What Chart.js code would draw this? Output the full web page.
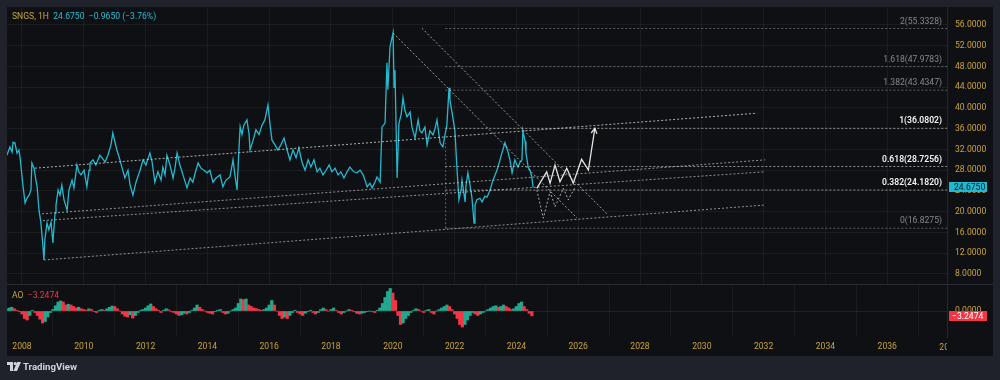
<!DOCTYPE html>
<html><head><meta charset="utf-8">
<script src="https://cdn.jsdelivr.net/npm/chart.js@4.4.1/dist/chart.umd.min.js"></script>
<style>
html,body{margin:0;padding:0;background:#1f222a;width:1000px;height:380px;overflow:hidden;font-family:Roboto,"Liberation Sans",Arial,sans-serif;}
#frame{position:absolute;left:7px;top:7px;width:986px;height:349px;background:#0f1013;}
#main{position:absolute;left:7px;top:7px;}
#ao{position:absolute;left:7px;top:285px;}
#sep{position:absolute;left:7px;top:284px;width:986px;height:1px;background:#2a2d35;}
.t{position:absolute;font-size:8.6px;white-space:pre;line-height:10px;}
#logo{position:absolute;left:7px;top:361px;height:11px;display:flex;align-items:center;color:#d1d4dc;font-size:9.6px;font-weight:bold;}
</style></head>
<body>
<div id="frame"></div>
<canvas id="main" width="986" height="277"></canvas>
<div id="sep"></div>
<canvas id="ao" width="986" height="71"></canvas>
<div class="t" style="left:12px;top:11px;"><span style="color:#c9a43c">SNGS, 1H</span>  <span style="color:#2bbcd4">24.6750</span>  <span style="color:#2bbcd4">−0.9650 (−3.76%)</span></div>
<div class="t" style="left:12px;top:290px;"><span style="color:#c9a43c">AO</span>  <span style="color:#f23645">−3.2474</span></div>
<div id="logo"><svg width="14" height="10" viewBox="0 0 14 10" style="margin-right:2px"><path d="M0 0h6v9H3V3H0z" fill="#d1d4dc"/><circle cx="8.2" cy="1.6" r="1.6" fill="#d1d4dc"/><path d="M10.2 0h3.8l-4 9H6.3z" fill="#d1d4dc"/></svg>TradingView</div>
<script>
// ---- price series (year, price) ----
const priceDates = [
2007.51,2007.61,2007.68,2007.71,2007.77,2007.84,2007.90,2007.94,2007.97,2008.03,
2008.10,2008.16,2008.23,2008.29,2008.32,2008.39,2008.45,2008.49,2008.55,2008.61,
2008.68,2008.71,2008.74,2008.81,2008.87,2008.94,2009.00,2009.07,2009.10,2009.17,
2009.23,2009.29,2009.36,2009.46,2009.52,2009.62,2009.68,2009.78,2009.84,2009.91,
2010.01,2010.10,2010.17,2010.20,2010.30,2010.39,2010.46,2010.52,2010.59,2010.69,
2010.78,2010.88,2010.94,2011.01,2011.07,2011.17,2011.24,2011.33,2011.43,2011.50,
2011.59,2011.69,2011.82,2011.92,2012.01,2012.14,2012.21,2012.30,2012.40,2012.50,
2012.56,2012.63,2012.69,2012.79,2012.89,2012.95,2013.02,2013.11,2013.21,2013.34,
2013.44,2013.53,2013.63,2013.70,2013.79,2013.89,2013.99,2014.08,2014.18,2014.28,
2014.41,2014.50,2014.60,2014.73,2014.83,2014.89,2014.96,2015.02,2015.06,2015.12,
2015.18,2015.28,2015.35,2015.38,2015.48,2015.57,2015.67,2015.77,2015.86,2015.96,
2016.03,2016.09,2016.19,2016.28,2016.38,2016.48,2016.58,2016.67,2016.77,2016.87,
2016.96,2017.06,2017.16,2017.26,2017.35,2017.45,2017.55,2017.64,2017.74,2017.84,
2017.94,2018.03,2018.13,2018.23,2018.32,2018.42,2018.52,2018.61,2018.74,2018.84,
2018.94,2019.04,2019.10,2019.17,2019.26,2019.33,2019.42,2019.49,2019.59,2019.65,
2019.75,2019.81,2019.84,2019.91,2020.01,2020.04,2020.07,2020.14,2020.20,2020.27,
2020.33,2020.39,2020.46,2020.56,2020.62,2020.72,2020.82,2020.88,2020.94,2021.04,
2021.11,2021.20,2021.30,2021.37,2021.43,2021.53,2021.62,2021.69,2021.75,2021.82,
2021.85,2021.92,2022.01,2022.08,2022.14,2022.21,2022.24,2022.34,2022.37,2022.43,
2022.50,2022.56,2022.63,2022.66,2022.72,2022.82,2022.89,2022.98,2023.05,2023.15,
2023.24,2023.31,2023.37,2023.47,2023.53,2023.63,2023.73,2023.79,2023.86,2023.95,
2024.05,2024.12,2024.18,2024.21,2024.28,2024.31,2024.38,2024.44,2024.50,2024.54];
const priceValues = [
30.9,32.5,31.5,33.4,33.3,31.3,31.9,30.4,28.6,25.1,
21.7,22.6,23.2,24.2,29.4,28.4,26.1,24.8,20.3,18.0,
13.2,10.7,14.6,17.8,16.5,18.0,14.0,19.8,21.3,24.2,
23.2,25.1,22.3,20.3,24.2,26.1,24.6,29.0,27.7,27.1,
28.0,24.8,28.0,29.4,30.0,29.0,30.0,30.9,30.4,29.6,
30.9,32.9,35.2,33.4,31.9,30.0,28.4,26.5,28.0,25.1,
23.2,25.7,28.0,30.0,29.0,31.3,29.6,25.7,27.7,26.1,
28.6,27.1,30.9,29.0,26.5,28.4,31.3,29.0,27.1,24.6,
26.5,25.7,28.0,29.4,28.4,28.0,27.5,28.0,25.7,26.5,
27.1,24.8,26.1,26.7,30.0,27.1,24.2,31.9,36.4,34.9,
36.7,37.7,34.9,31.9,33.8,35.8,34.9,36.7,37.7,40.6,
36.7,33.8,32.9,31.9,32.9,34.2,31.9,30.0,31.9,30.4,
32.3,29.6,28.0,30.0,28.6,30.0,27.7,28.4,27.1,28.0,
29.0,27.7,28.4,27.1,27.7,26.5,27.7,28.6,27.7,27.5,
28.0,27.1,26.1,24.8,25.5,24.6,25.7,26.7,25.7,36.3,
37.1,48.7,43.5,51.8,54.5,44.0,47.3,26.5,37.1,38.7,
42.0,39.6,38.3,39.2,36.3,34.2,37.7,35.6,35.2,36.3,
32.9,35.6,34.8,36.1,37.7,33.3,32.5,34.8,36.7,43.9,
41.5,39.0,35.6,28.0,22.3,24.2,26.1,21.9,25.1,27.5,
25.1,22.8,17.8,21.3,22.3,22.6,21.9,23.0,22.8,24.2,
26.1,27.1,28.0,30.0,31.3,33.3,31.5,30.0,27.5,30.0,
28.6,29.6,30.0,35.6,33.6,31.3,28.6,28.0,26.7,24.675];
const lastPrice = 24.675;

// ---- axis ticks ----
const priceTicks = [8,12,16,20,24,28,32,36,40,44,48,52,56];
const yearTicks = [2008,2010,2012,2014,2016,2018,2020,2022,2024,2026,2028,2030,2032,2034,2036];
const clippedYearTick = 2038;

// ---- Fibonacci extension ----
const fibRatios = ['2','1.618','1.382','1','0.618','0.382','0'];
const fibLevels = [55.3328,47.9783,43.4347,36.0802,28.7256,24.1820,16.8275];
const fibStrong = [false,false,false,true,true,true,false];
const fibStartYear = 2021.70;
const fibVertical = [[2021.71,16.8275],[2021.71,33.3]];

// ---- trend lines (year, price) ----
const channelTop = [[2008.42,28.4],[2031.79,39.0]];
const channelMid1 = [[2008.65,19.6],[2032.05,30.0]];
const channelMid2 = [[2008.68,18.3],[2032.05,27.7]];
const channelBottom = [[2008.71,10.7],[2032.05,21.3]];
const diagonalA = [[2020.01,54.46],[2025.96,18.8]];
const diagonalB = [[2020.94,55.4],[2026.93,19.6]];

// ---- projected paths ----
const zigUpDates = [2024.66,2024.98,2025.09,2025.25,2025.41,2025.63,2025.84,2026.11,2026.33,2026.54];
const zigUpPrices = [24.5,27.7,25.5,29.0,25.8,28.4,25.5,30.1,28.05,36.1];
const zigDownDates = [2024.66,2024.87,2025.09,2025.25,2025.52,2025.68,2025.90];
const zigDownPrices = [24.2,18.75,23.87,20.98,24.52,22.3,24.75];

// ---- Awesome Oscillator, monthly from Jul 2007 ----
const aoStartYear = 2007.5;
const aoValues = [
1.0,2.0,2.5,1.5,0.5,-0.5,
-2,-5,-6,-3,0.5,-1,-3,-5.5,-8,-7,-4,-1,
1,3.5,6,6.7,6,4,4.5,4,3,2,2.5,1.5,
1,0.5,1.5,1,-0.5,-1,0.5,1,0.5,1.5,2.5,3.3,
3,1.5,0,-2,-3.5,-4,-2.5,-4.7,-3,-1,0.5,1,
2,3.5,4.7,3,1.5,0.5,-1,0.5,1.5,0.8,-0.5,-1,
-2,-3,-2.5,-1.5,-2,-1,0.5,2,4,2.5,1,0,
-1,-1.5,-2,-0.5,0.5,1,-1,-2,-1.5,0,1,2,
5,8,7.5,8,4,3,2,1.5,1,0.5,1,2,
4,7,4,0,-3,-5,-4,-5,-3,-1,0.5,-1,
-2,-3,-1.5,-0.5,0.5,-1,-2,-1,1,2,1,0,
1,2,0.5,-1,-2,-1,0,1,0.5,-0.5,-1.5,-2,
-1.5,-1,-0.5,0,-0.5,-1,0.5,2,5,9,13,15,
12,7,-3,-9,-8,-5,-3,-1,0.5,1.5,1,0,
-1,0.5,1,-1,-2,0,1,2,3,4,3,1,
-2,-5,-9,-10.7,-9,-6,-3,-1,-2,-3,-2,-1,
0,1,2,3,3.5,2.5,3,4,3,2,1,1.5,
3,5,6,3,1,-1.5,-3.2474];
const aoLast = -3.2474;

// ---- styling ----
const GOLD = '#c9a43c', CYAN = '#25b9cf', GRID = 'rgba(255,255,255,0.05)';
const FONT = {family:'Roboto, "Liberation Sans", Arial', size: 8.6};
Chart.defaults.font.family = FONT.family;
const X_MIN = 2007.515, X_MAX = 2037.935;

const pts = a => a.map(p => ({x:p[0], y:p[1]}));
const zip = (xs, ys) => xs.map((x,i) => ({x, y: ys[i]}));
const noPad = s => { s.paddingLeft = 0; s.paddingRight = 0; s.paddingTop = 0; s.paddingBottom = 0; };

function lineDs(data, color, dash, width, order) {
  return {type:'line', data, borderColor: color, borderWidth: width || 1, borderDash: dash || [],
          pointRadius: 0, tension: 0, fill: false, order: order === undefined ? 0 : order};
}

const datasets = [];
datasets.push(lineDs(zip(priceDates, priceValues), CYAN, [], 1.3, 2));
datasets.push(lineDs(pts(channelTop), 'rgba(215,215,215,0.8)', [2,2], 1));
datasets.push(lineDs(pts(channelMid1), 'rgba(200,200,200,0.7)', [2,2], 1));
datasets.push(lineDs(pts(channelMid2), 'rgba(200,200,200,0.7)', [2,2], 1));
datasets.push(lineDs(pts(channelBottom), 'rgba(200,200,200,0.7)', [2,2], 1));
datasets.push(lineDs(pts(diagonalA), 'rgba(205,205,205,0.75)', [2,2], 1));
datasets.push(lineDs(pts(diagonalB), 'rgba(205,205,205,0.75)', [2,2], 1));
fibLevels.forEach((lv, i) => {
  datasets.push(lineDs([{x:fibStartYear,y:lv},{x:X_MAX,y:lv}], fibStrong[i] ? 'rgba(200,200,200,0.7)' : 'rgba(150,152,160,0.6)', [2,2], 1));
});
datasets.push(lineDs(pts(fibVertical), 'rgba(150,152,160,0.6)', [2,2], 1));
datasets.push(lineDs(zip(zigDownDates, zigDownPrices), 'rgba(210,210,210,0.8)', [2,2], 1));
const zigUpIndex = datasets.length;
datasets.push(lineDs(zip(zigUpDates, zigUpPrices), '#e6e6e6', [], 1.3));

const mainPlugin = {
  id: 'mainDeco',
  afterDatasetsDraw(chart) {
    const {ctx, chartArea, scales:{y}} = chart;
    ctx.save();
    ctx.textAlign = 'right'; ctx.textBaseline = 'middle';
    fibLevels.forEach((lv, i) => {
      const py = y.getPixelForValue(lv);
      ctx.fillStyle = fibStrong[i] ? '#f2f2f2' : '#858891';
      ctx.font = (fibStrong[i] ? '600 ' : '') + '8.6px ' + FONT.family;
      ctx.fillText(fibRatios[i] + '(' + lv.toFixed(4) + ')', chartArea.right - 5, py - 7);
    });
    // arrow head on projected path
    const meta = chart.getDatasetMeta(zigUpIndex).data;
    const a = meta[meta.length - 2], b = meta[meta.length - 1];
    const ang = Math.atan2(b.y - a.y, b.x - a.x);
    ctx.strokeStyle = '#e6e6e6'; ctx.lineWidth = 1.3;
    ctx.beginPath();
    ctx.moveTo(b.x - 6*Math.cos(ang - 0.5), b.y - 6*Math.sin(ang - 0.5));
    ctx.lineTo(b.x, b.y);
    ctx.lineTo(b.x - 6*Math.cos(ang + 0.5), b.y - 6*Math.sin(ang + 0.5));
    ctx.stroke();
    ctx.restore();
  },
  afterDraw(chart) {
    const {ctx, chartArea, scales:{y}} = chart;
    const py = y.getPixelForValue(lastPrice);
    ctx.save();
    ctx.fillStyle = '#22b8cf';
    ctx.fillRect(chartArea.right + 2, Math.round(py - 5), 38, 10);
    ctx.fillStyle = '#0c1a22';
    ctx.font = '8.6px ' + FONT.family;
    ctx.textAlign = 'left'; ctx.textBaseline = 'middle';
    ctx.fillText(lastPrice.toFixed(4), chartArea.right + 7, py + 0.5);
    ctx.restore();
  }
};

new Chart(document.getElementById('main'), {
  data: {datasets},
  options: {
    responsive: false, animation: false, devicePixelRatio: 1,
    layout: {padding: 0},
    plugins: {legend: {display: false}, tooltip: {enabled: false}},
    scales: {
      x: {type: 'linear', min: X_MIN, max: X_MAX, position: 'bottom',
          afterBuildTicks: s => { s.ticks = yearTicks.map(v => ({value: v})); },
          ticks: {display: false, autoSkip: false},
          grid: {color: GRID, drawTicks: false}, border: {display: false},
          afterFit: s => { s.height = 0; noPad(s); }},
      y: {type: 'linear', position: 'right', min: 6.07, max: 59.47,
          afterBuildTicks: s => { s.ticks = priceTicks.map(v => ({value: v})); },
          ticks: {color: GOLD, font: FONT, padding: 8, autoSkip: false, callback: v => Number(v).toFixed(4)},
          grid: {color: GRID, drawTicks: false}, border: {display: true, color: '#25282f'},
          afterFit: s => { s.width = 46; noPad(s); }}
    }
  },
  plugins: [mainPlugin]
});

// ---- AO pane ----
const aoData = aoValues.map((v, i) => ({x: aoStartYear + i/12, y: v}));
const aoColors = aoValues.map((v, i) => (i === 0 || v >= aoValues[i-1]) ? '#22a88f' : '#f23645');

const aoPlugin = {
  id: 'aoDeco',
  afterDraw(chart) {
    const {ctx, chartArea, scales:{x, y}} = chart;
    ctx.save();
    ctx.beginPath(); ctx.rect(0, 0, chartArea.right, chart.height); ctx.clip();
    ctx.fillStyle = GOLD; ctx.font = '8.6px ' + FONT.family;
    ctx.textAlign = 'center'; ctx.textBaseline = 'middle';
    ctx.fillText(String(clippedYearTick), x.getPixelForValue(clippedYearTick), chartArea.bottom + 10.5);
    ctx.restore();
    const py = y.getPixelForValue(aoLast);
    ctx.save();
    ctx.fillStyle = '#f23645';
    ctx.fillRect(chartArea.right + 2, Math.round(py - 5), 38, 10);
    ctx.fillStyle = '#ffffff';
    ctx.font = '8.6px ' + FONT.family;
    ctx.textAlign = 'left'; ctx.textBaseline = 'middle';
    ctx.fillText('−' + Math.abs(aoLast).toFixed(4), chartArea.right + 5, py + 0.5);
    ctx.restore();
  }
};

new Chart(document.getElementById('ao'), {
  type: 'bar',
  data: {datasets: [{data: aoData, backgroundColor: aoColors, borderWidth: 0,
                     barPercentage: 1, categoryPercentage: 1}]},
  options: {
    responsive: false, animation: false, devicePixelRatio: 1,
    layout: {padding: 0},
    plugins: {legend: {display: false}, tooltip: {enabled: false}},
    scales: {
      x: {type: 'linear', min: X_MIN, max: X_MAX, position: 'bottom', offset: false,
          afterBuildTicks: s => { s.ticks = yearTicks.map(v => ({value: v})); },
          ticks: {color: GOLD, font: FONT, padding: 5, autoSkip: false, maxRotation: 0, callback: v => String(v)},
          grid: {color: GRID, drawTicks: false}, border: {display: false},
          afterFit: s => { s.height = 19; noPad(s); }},
      y: {type: 'linear', position: 'right', min: -17.33, max: 17.33,
          afterBuildTicks: s => { s.ticks = [{value: 0}]; },
          ticks: {color: GOLD, font: FONT, padding: 8, callback: v => Number(v).toFixed(4)},
          grid: {color: 'rgba(255,255,255,0.08)', drawTicks: false}, border: {display: true, color: '#25282f'},
          afterFit: s => { s.width = 46; noPad(s); }}
    }
  },
  plugins: [aoPlugin]
});
</script>
</body></html>
